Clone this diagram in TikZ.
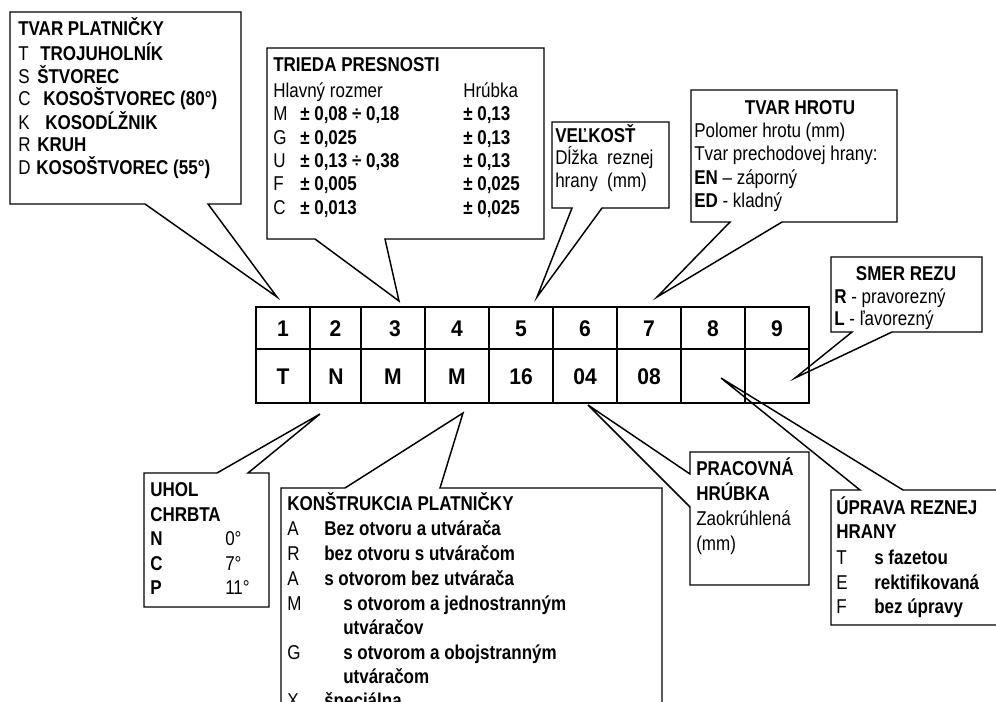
\documentclass[tikz,border=0pt]{standalone}
\usepackage{fontspec}
\setmainfont{Liberation Sans}[FakeStretch=0.85]
\newfontfamily\cellfont{Liberation Sans}[FakeStretch=0.93]
\begin{document}
\begin{tikzpicture}[x=0.75pt,y=-0.75pt,
  callout/.style={draw=black,line width=1.1pt,line join=miter},
  gridline/.style={draw=black,line width=1.2pt},
  txt/.style={anchor=base west,inner sep=0pt,font=\fontsize{15}{17}\selectfont},
  hd/.style={anchor=base west,inner sep=0pt,font=\fontsize{15}{17}\selectfont\bfseries},
  hdc/.style={anchor=base,inner sep=0pt,font=\fontsize{15}{17}\selectfont\bfseries},
  cell/.style={anchor=base,inner sep=0pt,font=\cellfont\fontsize{17}{20}\selectfont\bfseries}]
\useasboundingbox (0,0) rectangle (996,701);
\clip (0,0) rectangle (996,701);
\fill[white] (0,0) rectangle (996,701);

% ---------- code table ----------
\draw[gridline] (256,307) rectangle (809,403);
\draw[gridline] (256,349) -- (809,349);
\foreach \x in {310,361,425,489,553,617,681,745}
  \draw[gridline] (\x,307) -- (\x,403);
\foreach \n/\x in {1/283,2/335.5,3/395,4/457,5/521,6/585,7/649,8/713,9/777}
  \node[cell] (h\n) at (\x,336) {\n};
\node[cell] (v1) at (283,384) {T};
\node[cell] (v2) at (336,384) {N};
\node[cell] (v3) at (393,384) {M};
\node[cell] (v4) at (457,384) {M};
\node[cell] (v5) at (521,384) {16};
\node[cell] (v6) at (585,384) {04};
\node[cell] (v7) at (649,384) {08};

% ---------- pointer tips ----------
\coordinate (tipShape) at (277,297);
\coordinate (tipClass) at (399,301);
\coordinate (tipSize) at (537,297);
\coordinate (tipNose) at (657,297);
\coordinate (tipDir) at (795,378);
\coordinate (tipEdge) at (721,378);
\coordinate (tipThick) at (588,405);
\coordinate (tipAngle) at (320,414);
\coordinate (tipBuild) at (463,413);

% ---------- TVAR PLATNIČKY ----------
\draw[callout] (10,12) -- (241,12) -- (241,204) -- (208,204) -- (tipShape)
  -- (145,204) -- (10,204) -- cycle;
\node[hd] (shT) at (18,35) {TVAR PLATNIČKY};
\node[txt] (shL1) at (18,60) {T};  \node[hd] (shD1) at (40,60) {TROJUHOLNÍK};
\node[txt] (shL2) at (18,83) {S};  \node[hd] (shD2) at (37,83) {ŠTVOREC};
\node[txt] (shL3) at (18,105) {C}; \node[hd] (shD3) at (43,105) {KOSOŠTVOREC (80°)};
\node[txt] (shL4) at (18,129) {K}; \node[hd] (shD4) at (45,129) {KOSODĹŽNIK};
\node[txt] (shL5) at (18,151) {R}; \node[hd] (shD5) at (37,151) {KRUH};
\node[txt] (shL6) at (18,174) {D}; \node[hd] (shD6) at (36,174) {KOSOŠTVOREC (55°)};

% ---------- TRIEDA PRESNOSTI ----------
\draw[callout] (267,48) -- (544,48) -- (544,239) -- (385,239) -- (tipClass)
  -- (315,239) -- (267,239) -- cycle;
\node[hd] (clT) at (273,71) {TRIEDA PRESNOSTI};
\node[txt] (clH1) at (273,97) {Hlavný rozmer};
\node[txt] (clH2) at (463,97) {Hrúbka};
\foreach \i/\l/\a/\b/\y in {1/M/{± 0,08 ÷ 0,18}/{± 0,13}/120,
                             2/G/{± 0,025}/{± 0,13}/144,
                             3/U/{± 0,13 ÷ 0,38}/{± 0,13}/167,
                             4/F/{± 0,005}/{± 0,025}/190,
                             5/C/{± 0,013}/{± 0,025}/214}{
  \node[txt] (clL\i) at (273,\y) {\l};
  \node[hd] (clA\i) at (300,\y) {\a};
  \node[hd] (clB\i) at (463,\y) {\b};
}

% ---------- VEĽKOSŤ ----------
\draw[callout] (552,122) -- (669,122) -- (669,208) -- (602,208) -- (tipSize)
  -- (572,208) -- (552,208) -- cycle;
\node[hd] (szT) at (555,142) {VEĽKOSŤ};
\node[txt] (sz1) at (555,164) {Dĺžka\ \ reznej};
\node[txt] (sz2) at (555,187) {hrany\ \ (mm)};

% ---------- TVAR HROTU ----------
\draw[callout] (691,90) -- (897,90) -- (897,222) -- (782,222) -- (tipNose)
  -- (730,222) -- (691,222) -- cycle;
\node[hdc] (nsT) at (800,114) {TVAR HROTU};
\node[txt] (ns1) at (694,137) {Polomer hrotu (mm)};
\node[txt] (ns2) at (694,160) {Tvar prechodovej hrany:};
\node[txt] (ns3) at (694,184) {\textbf{EN} – záporný};
\node[txt] (ns4) at (694,207) {\textbf{ED} - kladný};

% ---------- SMER REZU ----------
\draw[callout] (831,257) -- (982,257) -- (982,332) -- (892,332) -- (tipDir)
  -- (852,332) -- (831,332) -- cycle;
\node[hdc] (drT) at (906,280) {SMER REZU};
\node[txt] (dr1) at (834,303) {\textbf{R} - pravorezný};
\node[txt] (dr2) at (834,325) {\textbf{L} - ľavorezný};

% ---------- UHOL CHRBTA ----------
\draw[callout] (144,473) -- (217,473) -- (tipAngle) -- (248,473) -- (269,473)
  -- (269,607) -- (144,607) -- cycle;
\node[hd] (anT1) at (150,496) {UHOL};
\node[hd] (anT2) at (150,521) {CHRBTA};
\node[hd] (anL1) at (150,545) {N}; \node[txt] (anV1) at (225,545) {0°};
\node[hd] (anL2) at (150,570) {C}; \node[txt] (anV2) at (225,570) {7°};
\node[hd] (anL3) at (150,594) {P}; \node[txt] (anV3) at (225,594) {11°};

% ---------- KONŠTRUKCIA PLATNIČKY ----------
\draw[callout] (281,488) -- (345,488) -- (tipBuild) -- (440,488) -- (662,488)
  -- (662,730) -- (281,730) -- cycle;
\node[hd] (bdT) at (287,510) {KONŠTRUKCIA PLATNIČKY};
\node[txt] (bdL1) at (287,535) {A}; \node[hd] (bdD1) at (324,535) {Bez otvoru a utvárača};
\node[txt] (bdL2) at (287,560) {R}; \node[hd] (bdD2) at (324,560) {bez otvoru s utváračom};
\node[txt] (bdL3) at (287,585) {A}; \node[hd] (bdD3) at (324,585) {s otvorom bez utvárača};
\node[txt] (bdL4) at (287,610) {M}; \node[hd] (bdD4) at (343,610) {s otvorom a jednostranným};
\node[hd] (bdD4b) at (343,634) {utváračov};
\node[txt] (bdL5) at (287,659) {G}; \node[hd] (bdD5) at (343,659) {s otvorom a obojstranným};
\node[hd] (bdD5b) at (343,683) {utváračom};
\node[txt] (bdL6) at (287,707) {X}; \node[hd] (bdD6) at (324,707) {špeciálna};

% ---------- PRACOVNÁ HRÚBKA ----------
\draw[callout] (690,452) -- (809,452) -- (809,585) -- (690,585) -- (690,507)
  -- (tipThick) -- (690,474) -- cycle;
\node[hd] (wtT1) at (696,475) {PRACOVNÁ};
\node[hd] (wtT2) at (696,500) {HRÚBKA};
\node[txt] (wt1) at (696,525) {Zaokrúhlená};
\node[txt] (wt2) at (696,550) {(mm)};

% ---------- ÚPRAVA REZNEJ HRANY ----------
\draw[callout] (831,490) -- (860,490) -- (tipEdge) -- (903,490) -- (1005,490)
  -- (1005,625) -- (831,625) -- cycle;
\node[hd] (egT1) at (836,514) {ÚPRAVA REZNEJ};
\node[hd] (egT2) at (836,538) {HRANY};
\node[txt] (egL1) at (836,564) {T}; \node[hd] (egD1) at (874,564) {s fazetou};
\node[txt] (egL2) at (836,589) {E}; \node[hd] (egD2) at (874,589) {rektifikovaná};
\node[txt] (egL3) at (836,613) {F}; \node[hd] (egD3) at (874,613) {bez úpravy};
\end{tikzpicture}
\end{document}
